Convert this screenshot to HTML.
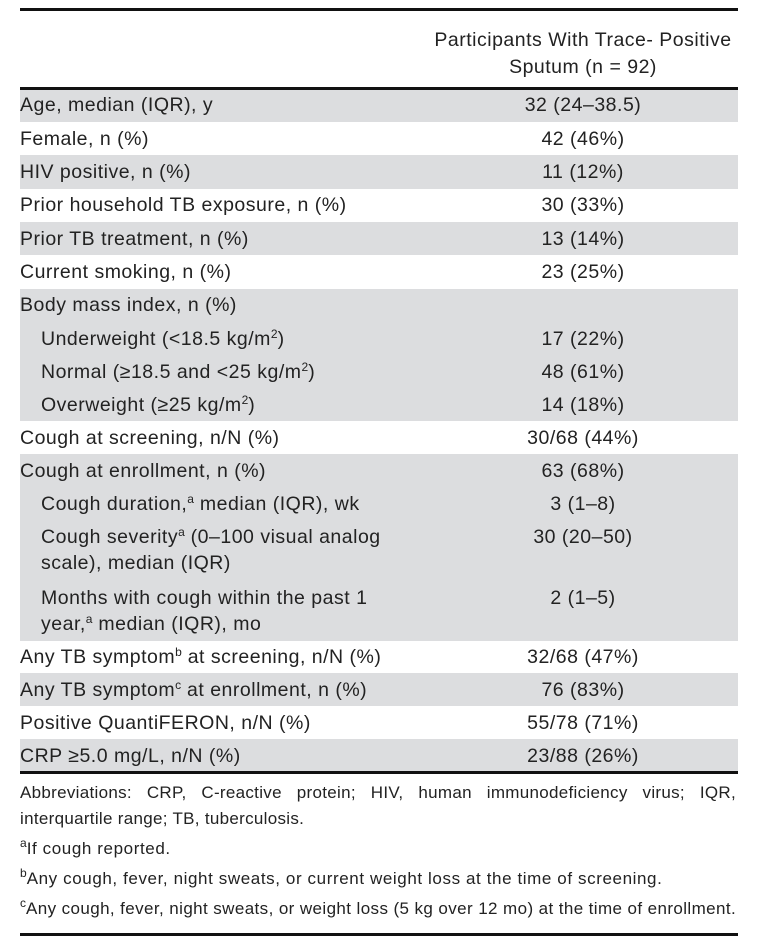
<!DOCTYPE html>
<html><head><meta charset="utf-8"><style>
body{margin:0;background:#fff;width:758px;height:947px;position:relative;font-family:"Liberation Sans",Arial,sans-serif;color:#222;overflow:hidden}
.r{position:absolute;left:20px;width:718px}
.s{background:#dcdddf}
.t{position:absolute;font-size:19.5px;letter-spacing:0.5px;white-space:nowrap;line-height:26px}
.l{left:20px}.i{left:41px}
.v{left:420px;width:326px;text-align:center}
.ln{position:absolute;left:20px;width:718px;background:#111}
.f{position:absolute;left:20px;width:716px;font-size:17px;letter-spacing:0.6px;line-height:22px}
sup{font-size:12px;line-height:0;vertical-align:7px;letter-spacing:0}
</style></head><body>
<div class="ln" style="top:8px;height:3px"></div>
<div class="t v" style="top:27px">Participants With Trace- Positive</div>
<div class="t v" style="top:54px">Sputum (n = 92)</div>
<div class="ln" style="top:87px;height:3px"></div>

<div class="r s" style="top:90px;height:32px"></div>
<div class="r s" style="top:155px;height:34px"></div>
<div class="r s" style="top:222px;height:33px"></div>
<div class="r s" style="top:289px;height:132px"></div>
<div class="r s" style="top:454px;height:187px"></div>
<div class="r s" style="top:673px;height:33px"></div>
<div class="r s" style="top:739px;height:32px"></div>
<div class="ln" style="top:771px;height:3px"></div>

<div class="t l" style="top:92px">Age, median (IQR), y</div><div class="t v" style="top:92px">32 (24–38.5)</div>
<div class="t l" style="top:126px">Female, n (%)</div><div class="t v" style="top:126px">42 (46%)</div>
<div class="t l" style="top:159px">HIV positive, n (%)</div><div class="t v" style="top:159px">11 (12%)</div>
<div class="t l" style="top:192px">Prior household TB exposure, n (%)</div><div class="t v" style="top:192px">30 (33%)</div>
<div class="t l" style="top:226px">Prior TB treatment, n (%)</div><div class="t v" style="top:226px">13 (14%)</div>
<div class="t l" style="top:259px">Current smoking, n (%)</div><div class="t v" style="top:259px">23 (25%)</div>
<div class="t l" style="top:292px">Body mass index, n (%)</div>
<div class="t i" style="top:326px">Underweight (&lt;18.5 kg/m<sup>2</sup>)</div><div class="t v" style="top:326px">17 (22%)</div>
<div class="t i" style="top:359px">Normal (≥18.5 and &lt;25 kg/m<sup>2</sup>)</div><div class="t v" style="top:359px">48 (61%)</div>
<div class="t i" style="top:392px">Overweight (≥25 kg/m<sup>2</sup>)</div><div class="t v" style="top:392px">14 (18%)</div>
<div class="t l" style="top:425px">Cough at screening, n/N (%)</div><div class="t v" style="top:425px">30/68 (44%)</div>
<div class="t l" style="top:458px">Cough at enrollment, n (%)</div><div class="t v" style="top:458px">63 (68%)</div>
<div class="t i" style="top:491px">Cough duration,<sup>a</sup> median (IQR), wk</div><div class="t v" style="top:491px">3 (1–8)</div>
<div class="t i" style="top:524px">Cough severity<sup>a</sup> (0–100 visual analog</div><div class="t v" style="top:524px">30 (20–50)</div>
<div class="t i" style="top:550px">scale), median (IQR)</div>
<div class="t i" style="top:585px">Months with cough within the past 1</div><div class="t v" style="top:585px">2 (1–5)</div>
<div class="t i" style="top:611px">year,<sup>a</sup> median (IQR), mo</div>
<div class="t l" style="top:644px">Any TB symptom<sup>b</sup> at screening, n/N (%)</div><div class="t v" style="top:644px">32/68 (47%)</div>
<div class="t l" style="top:677px">Any TB symptom<sup>c</sup> at enrollment, n (%)</div><div class="t v" style="top:677px">76 (83%)</div>
<div class="t l" style="top:710px">Positive QuantiFERON, n/N (%)</div><div class="t v" style="top:710px">55/78 (71%)</div>
<div class="t l" style="top:743px">CRP ≥5.0 mg/L, n/N (%)</div><div class="t v" style="top:743px">23/88 (26%)</div>

<div class="f" style="top:782px;text-align:justify;text-align-last:justify;letter-spacing:0.3px">Abbreviations: CRP, C-reactive protein; HIV, human immunodeficiency virus; IQR,</div>
<div class="f" style="top:808px;letter-spacing:0.3px">interquartile range; TB, tuberculosis.</div>
<div class="f" style="top:838px"><sup>a</sup>If cough reported.</div>
<div class="f" style="top:868px;white-space:nowrap"><sup>b</sup>Any cough, fever, night sweats, or current weight loss at the time of screening.</div>
<div class="f" style="top:898px;white-space:nowrap;letter-spacing:0.4px"><sup>c</sup>Any cough, fever, night sweats, or weight loss (5 kg over 12 mo) at the time of enrollment.</div>
<div class="ln" style="top:933px;height:3px"></div>
</body></html>
